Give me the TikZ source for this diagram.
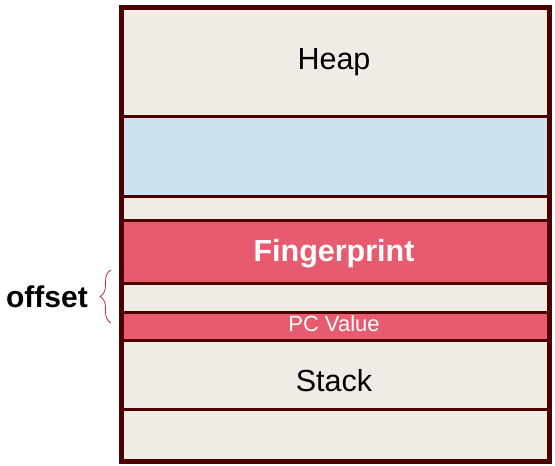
\documentclass[tikz,border=0pt]{standalone}
\usepackage{fontspec}
\setmainfont{Liberation Sans}
\usetikzlibrary{decorations.pathreplacing}
\definecolor{beige}{HTML}{F0EBE5}
\definecolor{lblue}{HTML}{CDE2EE}
\definecolor{fred}{HTML}{E85A6E}
\definecolor{border}{HTML}{4D0000}
\definecolor{bracec}{HTML}{B0303F}
\tikzset{
  row/.style={rectangle, draw=border, line width=3pt, inner sep=0pt,
    minimum width=426pt, anchor=north west},
  bigtxt/.style={font=\fontsize{30.5}{36}\selectfont, anchor=base, inner sep=0pt},
}
\begin{document}
\begin{tikzpicture}[x=1pt,y=-1pt]
\useasboundingbox (0,0) rectangle (555,466);
\node[row, fill=beige, minimum height=107.5pt] (heap) at (121,7) {};
\node[row, fill=lblue, minimum height=80pt] (blue) at (121,114.5) {};
\node[row, fill=beige, minimum height=24pt] (gap1) at (121,194.5) {};
\node[row, fill=fred, minimum height=63pt] (fp) at (121,218.5) {};
\node[row, fill=beige, minimum height=29pt] (gap2) at (121,281.5) {};
\node[row, fill=fred, minimum height=28pt] (pc) at (121,310.5) {};
\node[row, fill=beige, minimum height=69.5pt] (stack) at (121,338.5) {};
\node[row, fill=beige, minimum height=51pt] (bottom) at (121,408) {};
\draw[border, line width=3.5pt] (heap.north west) rectangle (bottom.south east);
\node[bigtxt] (heaplbl) at (334,69) {Heap};
\node[bigtxt, text=white, font=\fontsize{30.5}{36}\selectfont\bfseries] (fplbl) at (334,261) {Fingerprint};
\node[anchor=base, inner sep=0pt, text=white, font=\fontsize{22}{26}\selectfont] (pclbl) at (334,331.5) {PC Value};
\node[bigtxt] (stacklbl) at (334,391) {Stack};
\coordinate (bt) at (111,270);
\coordinate (bb) at (111,323);
\draw[bracec, line width=0.8pt, decorate, decoration={brace, amplitude=11pt}] (bb) -- (bt);
\node[font=\fontsize{30}{36}\selectfont\bfseries] (offset) at (47,297) {offset};
\end{tikzpicture}
\end{document}
